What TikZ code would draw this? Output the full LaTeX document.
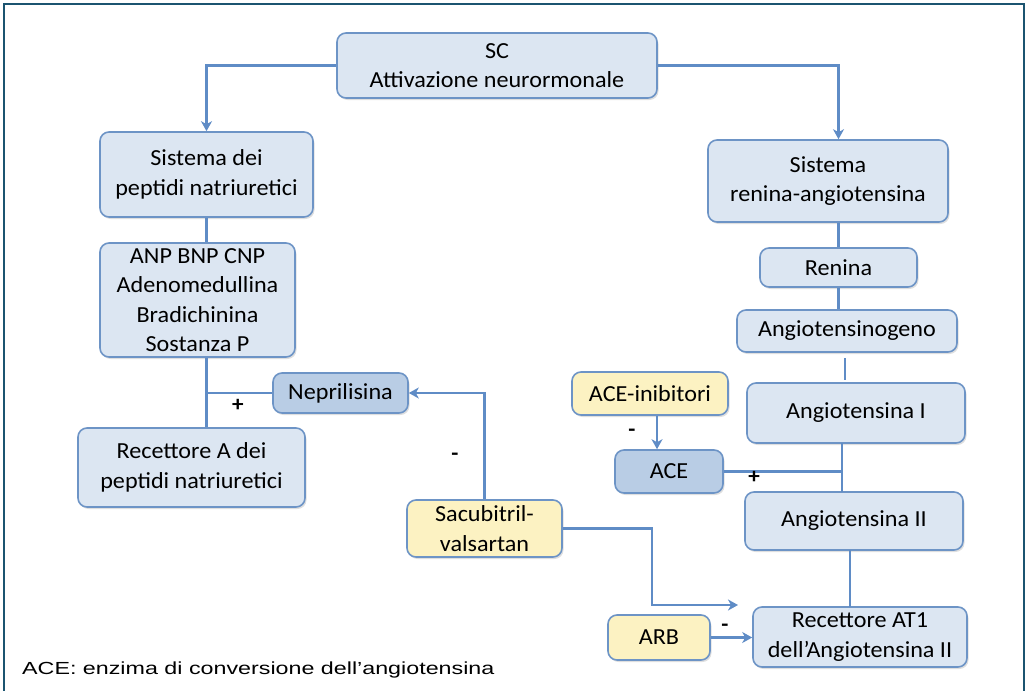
\documentclass[tikz,border=0pt]{standalone}
\usepackage{fontspec}
\setmainfont{Carlito}[FakeStretch=1.05]
\newfontfamily\notefont{Liberation Sans}[FakeStretch=1.33]
\usetikzlibrary{arrows.meta,shadows}

\definecolor{boxfill}{HTML}{DCE6F2}
\definecolor{boxline}{HTML}{6D94C6}
\definecolor{darkfill}{HTML}{B9CDE5}
\definecolor{drugfill}{HTML}{FCF2C2}
\definecolor{linkcol}{HTML}{5F8CC6}
\definecolor{framecol}{HTML}{1B5470}

\tikzset{
  box/.style={draw=boxline, line width=1.6pt, fill=boxfill, rounded corners=9pt,
    align=center, inner sep=0pt, font=\fontsize{23}{29.5}\selectfont,
    drop shadow={shadow xshift=1.5pt, shadow yshift=-2pt, opacity=0.25}},
  enzbox/.style={box, fill=darkfill},
  drugbox/.style={box, fill=drugfill},
  link/.style={draw=linkcol, line width=2.6pt},
  arr/.style={link, -{Stealth[length=10pt, width=11pt, inset=3pt]}},
  sign/.style={font=\bfseries\fontsize{22}{22}\selectfont}
}

\begin{document}
\begin{tikzpicture}[x=1pt, y=-1pt]
  \useasboundingbox (0,0) rectangle (1026,691);
  % cornice
  \draw [framecol, line width=1.5pt] (4,691) -- (4,4) -- (1024,4) -- (1024,691);

  % colonna sinistra
  \node [box, minimum width=320, minimum height=65] (sc) at (497,65.5) {SC\\Attivazione neurormonale};
  \node [box, minimum width=213, minimum height=85] (sdp) at (206.5,174.5) {Sistema dei\\peptidi natriuretici};
  \node [box, minimum width=195, minimum height=114] (anp) at (197.5,300) {ANP BNP CNP\\Adenomedullina\\Bradichinina\\Sostanza P};
  \node [enzbox, minimum width=135, minimum height=40] (nep) at (340.5,393) {Neprilisina};
  \node [box, minimum width=227, minimum height=79] (reca) at (191.5,467.5) {Recettore A dei\\peptidi natriuretici};
  \node [drugbox, minimum width=155, minimum height=57] (sac) at (484.5,528.5) {Sacubitril-\\valsartan};

  % colonna destra
  \node [box, minimum width=240, minimum height=82] (sra) at (828,181) {Sistema\\renina-angiotensina};
  \node [box, minimum width=157, minimum height=39] (ren) at (838.5,267.5) {Renina};
  \node [box, minimum width=220, minimum height=42] (agn) at (847,331) {Angiotensinogeno};
  \node [box, minimum width=218, minimum height=60] (ang1) at (856,413) {Angiotensina I};
  \node [drugbox, minimum width=156, minimum height=43] (acei) at (650,393.5) {ACE-inibitori};
  \node [enzbox, minimum width=108, minimum height=43] (ace) at (669,471.5) {ACE};
  \node [box, minimum width=218, minimum height=58] (ang2) at (854,521) {Angiotensina II};
  \node [box, minimum width=214, minimum height=60] (at1) at (860,637) {Recettore AT1\\dell’Angiotensina II};
  \node [drugbox, minimum width=102, minimum height=45] (arb) at (659,637.5) {ARB};

  % connettori
  \draw [arr] (sc.west) -| (sdp.north);
  \draw [arr] (sc.east) -| (ren |- sra.north);
  \draw [link] (sdp.south) -- (sdp.south |- anp.north);
  \draw [link] (sdp.south |- anp.south) -- (sdp.south |- reca.north);
  \draw [link] (nep.west) -- (sdp.south |- nep.west);
  \draw [arr] (sac.north) |- (nep.east);
  \coordinate (sacend) at (738,605);
  \draw [arr] (sac.east) -| (652,605) -- (sacend);
  \draw [link] (ren |- sra.south) -- (ren.north);
  \draw [link] (ren.south) -- (ren |- agn.north);
  \draw [link] (845,358) -- (845,380);
  \draw [link] (842,443) coordinate (a1s) -- (842,492);
  \draw [link] (ace.east) -- (a1s |- ace.east);
  \draw [arr] (acei.south -| 657,0) -- (ace.north -| 657,0);
  \draw [link] (850,550) -- (850,607);
  \draw [arr] (arb.east) -- (at1.west |- arb.east);

  % segni
  \node [sign] (p1) at (238,405) {+};
  \node [sign] (m1) at (455,457) {-};
  \node [sign] (m2) at (632,433) {-};
  \node [sign] (p2) at (754,477) {+};
  \node [sign] (m3) at (725,628) {-};

  % nota
  \node [anchor=west, inner sep=0pt, font=\notefont\fontsize{17.5}{20}\selectfont] (nota) at (22,670)
    {ACE: enzima di conversione dell’angiotensina};
\end{tikzpicture}
\end{document}
